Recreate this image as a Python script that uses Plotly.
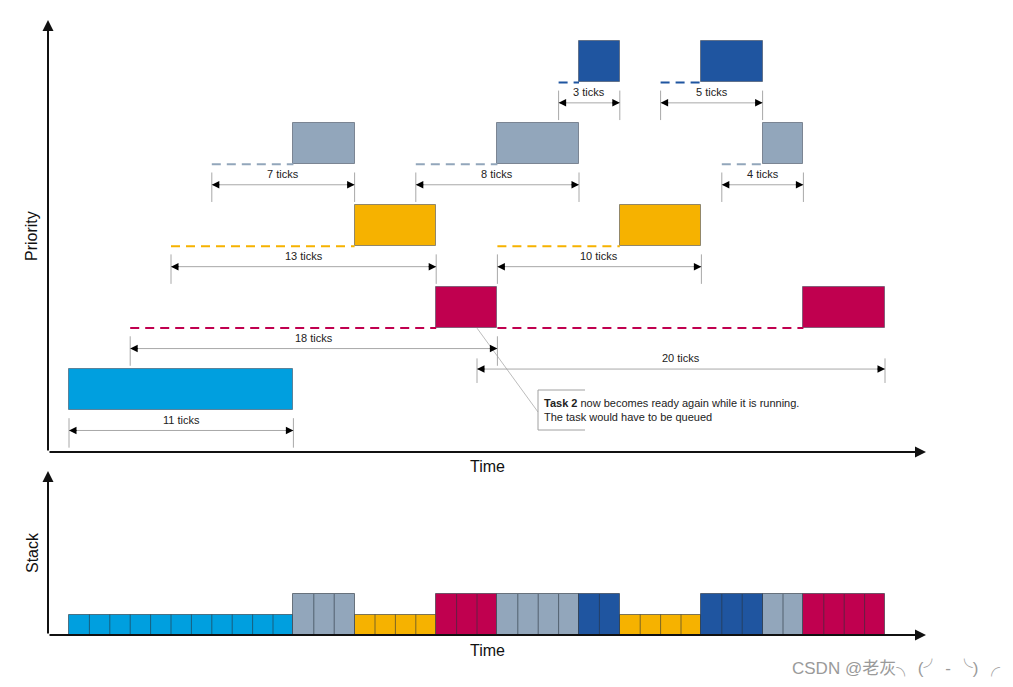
import plotly.graph_objects as go

# ---------------- data ----------------
task_priority = [1, 2, 3, 4, 5]
task_colors = ["#009FDF", "#C0004F", "#F6B200", "#92A6BB", "#1F55A0"]

# execution schedule (task index, start tick, length in ticks)
run_task = [0, 3, 2, 1, 3, 4, 2, 4, 3, 1]
run_start = [0, 11, 14, 18, 21, 25, 27, 31, 34, 36]
run_length = [11, 3, 4, 3, 4, 2, 4, 3, 2, 4]
stack_height = [1, 2, 1, 2, 2, 2, 1, 2, 2, 2]

# waiting periods (dashed lines)
wait_task = [1, 1, 2, 2, 3, 3, 3, 4, 4]
wait_start = [3, 21, 5, 21, 7, 17, 32, 24, 29]
wait_end = [18, 36, 14, 27, 11, 21, 34, 25, 31]

# dimension arrows
dim_task = [0, 1, 1, 2, 2, 3, 3, 3, 4, 4]
dim_start = [0, 3, 20, 5, 21, 7, 17, 32, 24, 29]
dim_end = [11, 21, 40, 18, 31, 14, 25, 36, 27, 34]
dim_row = [0, 0, 1, 0, 0, 0, 0, 0, 0, 0]
dim_labels = ["11 ticks", "18 ticks", "20 ticks", "13 ticks", "10 ticks",
              "7 ticks", "8 ticks", "4 ticks", "3 ticks", "5 ticks"]

note_task = 1
note_tick = 20
note_text = "<b>Task 2</b> now becomes ready again while it is running.<br>The task would have to be queued"

# ---------------- geometry helpers (screen pixels) ----------------
PAGE_OFF = 8                      # default body margin of the html page
W, H = 1013 - PAGE_OFF, 687 - PAGE_OFF
X0_PX, PX_TICK = 69.0, 20.4
L1_PX, PX_LEVEL = 410.0, 81.9
S0_PX, PX_STACK = 635.0, 20.5


def tx(px):
    return (px - X0_PX) / PX_TICK


def ty(py):
    return 1 + (L1_PX - py) / PX_LEVEL


def sy(py):
    return (S0_PX - py) / PX_STACK


def paper_x(px):
    return (px - PAGE_OFF) / W


def paper_y(py):
    return 1 - (py - PAGE_OFF) / H


FONT = "Liberation Sans, Arial, sans-serif"
fig = go.Figure()

# waiting dashed lines
for k in range(len(wait_task)):
    t = wait_task[k]
    fig.add_trace(go.Scatter(
        x=[wait_start[k], wait_end[k]], y=[task_priority[t]] * 2,
        mode="lines", line=dict(color=task_colors[t], width=2, dash="9px,6px"),
        showlegend=False, hoverinfo="skip"))

# running bars (priority chart)
for t in range(len(task_priority)):
    idx = [k for k in range(len(run_task)) if run_task[k] == t]
    fig.add_trace(go.Bar(
        x=[run_start[k] + run_length[k] / 2 for k in idx],
        y=[0.5] * len(idx),
        base=[task_priority[t]] * len(idx),
        width=[run_length[k] for k in idx],
        marker=dict(color=task_colors[t], line=dict(color="rgba(60,70,85,0.55)", width=1)),
        showlegend=False, hoverinfo="skip"))

# stack segments
for t in range(len(task_priority)):
    idx = [k for k in range(len(run_task)) if run_task[k] == t]
    fig.add_trace(go.Bar(
        x=[run_start[k] + run_length[k] / 2 for k in idx],
        y=[stack_height[k] for k in idx],
        base=[0] * len(idx),
        width=[run_length[k] for k in idx],
        yaxis="y2",
        marker=dict(color=task_colors[t], line=dict(color="rgba(40,50,60,0.6)", width=1)),
        showlegend=False, hoverinfo="skip"))

# cell dividers inside the stack segments (one per tick)
dx, dy = [], []
for k in range(len(run_task)):
    for i in range(1, run_length[k]):
        dx += [run_start[k] + i, run_start[k] + i, None]
        dy += [0, stack_height[k], None]
fig.add_trace(go.Scatter(x=dx, y=dy, yaxis="y2", mode="lines",
                         line=dict(color="rgba(40,50,60,0.6)", width=1),
                         showlegend=False, hoverinfo="skip"))

annotations = []
shapes = []

# dimension arrows
for k in range(len(dim_task)):
    p = task_priority[dim_task[k]]
    if dim_row[k] == 0:
        ay, ly, e0, e1 = p - 0.25, p - 0.12, p - 0.10, p - 0.46
    else:
        ay, ly, e0, e1 = p - 0.50, p - 0.37, p - 0.37, p - 0.67
    a, b = dim_start[k], dim_end[k]
    for xv in (a, b):
        shapes.append(dict(type="line", xref="x", yref="y", x0=xv, x1=xv, y0=e0, y1=e1,
                           line=dict(color="#A8A8A8", width=1)))
    shapes.append(dict(type="line", xref="x", yref="y", x0=a, x1=b, y0=ay, y1=ay,
                       line=dict(color="#A8A8A8", width=1)))
    annotations.append(dict(x=b, y=ay, xref="x", yref="y", ax=-9, ay=0, text="",
                            showarrow=True, arrowhead=2, arrowsize=1.5, arrowwidth=1,
                            arrowcolor="#000"))
    annotations.append(dict(x=a, y=ay, xref="x", yref="y", ax=9, ay=0, text="",
                            showarrow=True, arrowhead=2, arrowsize=1.5, arrowwidth=1,
                            arrowcolor="#000"))
    annotations.append(dict(x=(a + b) / 2, y=ly, xref="x", yref="y", text=dim_labels[k],
                            showarrow=False, font=dict(family=FONT, size=11, color="#222"),
                            yanchor="middle"))

# note with leader line and bracket
np_ = task_priority[note_task]
bx0, bx1 = tx(538), tx(585)
by0, by1 = ty(430), ty(390)
shapes.append(dict(type="line", xref="x", yref="y", x0=note_tick, y0=np_, x1=bx0, y1=ty(412),
                   line=dict(color="rgba(160,160,160,0.7)", width=1)))
shapes.append(dict(type="line", xref="x", yref="y", x0=bx0, x1=bx0, y0=by0, y1=by1,
                   line=dict(color="#A0A0A0", width=1)))
shapes.append(dict(type="line", xref="x", yref="y", x0=bx0, x1=bx1, y0=by1, y1=by1,
                   line=dict(color="#A0A0A0", width=1)))
shapes.append(dict(type="line", xref="x", yref="y", x0=bx0, x1=bx1, y0=by0, y1=by0,
                   line=dict(color="#A0A0A0", width=1)))
annotations.append(dict(x=tx(542), y=ty(410), xref="x", yref="y", text=note_text,
                        showarrow=False, xanchor="left", yanchor="middle", align="left",
                        font=dict(family=FONT, size=11, color="#222")))

# main axes arrows
ox, oy = tx(48), ty(452)
annotations.append(dict(x=tx(926), y=oy, ax=ox, ay=oy, xref="x", yref="y", axref="x", ayref="y",
                        text="", showarrow=True, arrowhead=2, arrowsize=1.1, arrowwidth=2,
                        arrowcolor="#111"))
annotations.append(dict(x=ox, y=ty(20), ax=ox, ay=oy, xref="x", yref="y", axref="x", ayref="y",
                        text="", showarrow=True, arrowhead=2, arrowsize=1.1, arrowwidth=2,
                        arrowcolor="#111"))
annotations.append(dict(x=tx(926), y=0, ax=ox, ay=0, xref="x", yref="y2", axref="x", ayref="y2",
                        text="", showarrow=True, arrowhead=2, arrowsize=1.1, arrowwidth=2,
                        arrowcolor="#111"))
annotations.append(dict(x=ox, y=sy(471), ax=ox, ay=0, xref="x", yref="y2", axref="x", ayref="y2",
                        text="", showarrow=True, arrowhead=2, arrowsize=1.1, arrowwidth=2,
                        arrowcolor="#111"))

# axis titles
for txt, xp, yp, ang in [("Time", 487, 466, 0), ("Time", 487, 650, 0),
                         ("Priority", 32, 236, -90), ("Stack", 32, 553, -90)]:
    annotations.append(dict(x=paper_x(xp), y=paper_y(yp), xref="paper", yref="paper", text=txt,
                            showarrow=False, textangle=ang, xanchor="center", yanchor="middle",
                            font=dict(family=FONT, size=16, color="#111")))

# watermark
annotations.append(dict(x=paper_x(1002), y=paper_y(668), xref="paper", yref="paper",
                        text="CSDN @老灰╮ (╯ - ╰) ╭", showarrow=False, xanchor="right",
                        yanchor="middle",
                        font=dict(family="Liberation Sans, Noto Sans CJK SC, sans-serif",
                                  size=17, color="#9A9A9A")))

fig.update_layout(
    width=W, height=H, margin=dict(l=0, r=0, t=0, b=0),
    paper_bgcolor="white", plot_bgcolor="white",
    barmode="overlay", bargap=0, hovermode=False, showlegend=False,
    xaxis=dict(range=[tx(PAGE_OFF), tx(1013)], visible=False, fixedrange=True),
    yaxis=dict(range=[ty(687), ty(PAGE_OFF)], visible=False, fixedrange=True),
    yaxis2=dict(range=[sy(687), sy(PAGE_OFF)], visible=False, overlaying="y", fixedrange=True),
    annotations=annotations, shapes=shapes,
)

fig.write_html("out.html")
